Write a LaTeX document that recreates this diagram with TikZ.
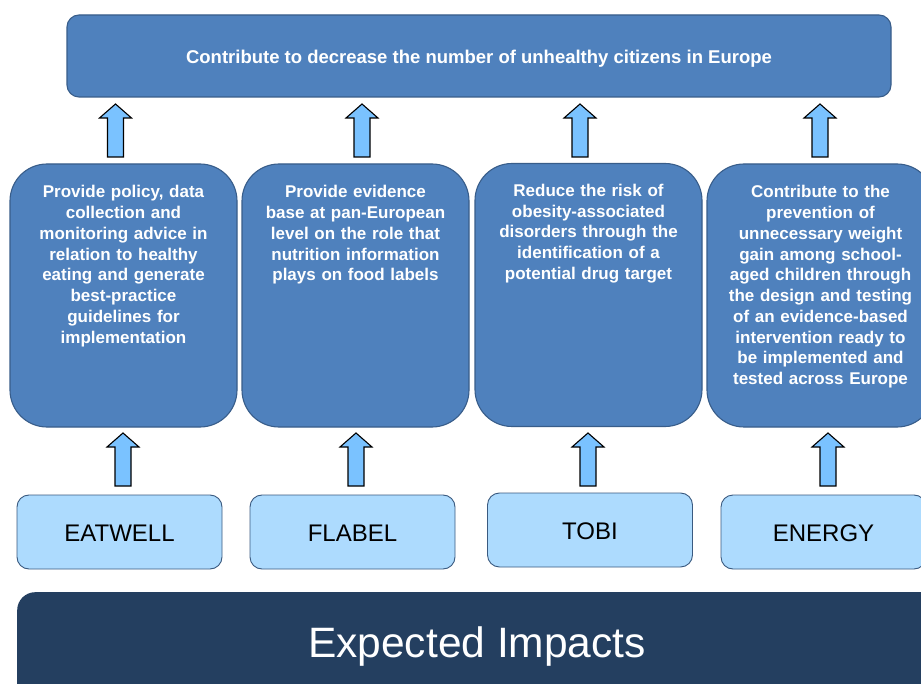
\documentclass[tikz,border=0pt]{standalone}
\usepackage{fontspec}
\setmainfont{Liberation Sans}
\usetikzlibrary{calc}
\definecolor{midblue}{HTML}{4F81BD}
\definecolor{midedge}{HTML}{385D8A}
\definecolor{lightbox}{HTML}{ADDBFE}
\definecolor{lightedge}{HTML}{3A5A80}
\definecolor{arrowfill}{HTML}{7AC2FF}
\definecolor{banner}{HTML}{243F60}
\tikzset{
  topbox/.style={draw=midedge, fill=midblue, line width=1.1pt, rounded corners=12pt,
    minimum width=824pt, minimum height=82pt, inner sep=0pt},
  toptext/.style={text=white, font=\fontsize{18.5}{22}\selectfont\bfseries, inner sep=0pt},
  midbox/.style={draw=midedge, fill=midblue, line width=1.1pt, rounded corners=37pt,
    minimum width=227pt, minimum height=263pt, inner sep=0pt},
  midtext/.style={text=white, align=center, text width=222pt, anchor=north, inner sep=0pt,
    font=\fontsize{17}{20.75}\selectfont\bfseries},
  projbox/.style={draw=lightedge, fill=lightbox, line width=0.9pt, rounded corners=12pt,
    minimum width=205pt, minimum height=74pt, inner sep=0pt},
  projtext/.style={inner sep=0pt, font=\fontsize{24}{28}\selectfont},
  bannerbox/.style={fill=banner, rounded corners=18pt, minimum width=980pt, minimum height=140pt, inner sep=0pt},
  bannertext/.style={text=white, font=\fontsize{42.5}{48}\selectfont, inner sep=0pt},
  barrow/.style={draw=black, fill=arrowfill, line width=1.1pt, line join=miter}
}
\newcommand\blockup[2]{%
  \draw[barrow] let \p1=(#1), \p2=(#2) in
    (\x1-8pt,\y1) -- (\x1+8pt,\y1) -- (\x1+8pt,\y2-14pt) -- (\x1+16pt,\y2-14pt)
    -- (\x2,\y2) -- (\x1-16pt,\y2-14pt) -- (\x1-8pt,\y2-14pt) -- cycle;}
\begin{document}
\begin{tikzpicture}[x=1pt,y=-1pt]
\useasboundingbox (0,0) rectangle (921,684);
\clip (0,0) rectangle (921,684);
\fill[white] (0,0) rectangle (921,684);
% top goal
\node[topbox] (goal) at (479,56) {};
\node[toptext] (goaltxt) at (479,58.5) {Contribute to decrease the number of unhealthy citizens in Europe};
% middle boxes
\node[midbox] (m1) at (123.5,295.5) {};
\node[midbox] (m2) at (355.5,295.5) {};
\node[midbox] (m3) at (588.5,295) {};
\node[midbox] (m4) at (820.5,295.5) {};
\node[midtext] (t1) at ([yshift=-22pt]m1.north) {Provide policy, data\\collection and\\monitoring advice in\\relation to healthy\\eating and generate\\best-practice\\guidelines for\\implementation};
\node[midtext] (t2) at ([yshift=-22pt]m2.north) {Provide evidence\\base at pan-European\\level on the role that\\nutrition information\\plays on food labels};
\node[midtext] (t3) at ([yshift=-21pt]m3.north) {Reduce the risk of\\obesity-associated\\disorders through the\\identification of a\\potential drug target};
\node[midtext] (t4) at ([yshift=-22pt]m4.north) {Contribute to the\\prevention of\\unnecessary weight\\gain among school-\\aged children through\\the design and testing\\of an evidence-based\\intervention ready to\\be implemented and\\tested across Europe};
% project boxes
\node[projbox] (p1) at (119.5,532) {};
\node[projbox] (p2) at (352.5,532) {};
\node[projbox] (p3) at (590,530) {};
\node[projbox] (p4) at (823.5,532) {};
\node[projtext] (p1t) at ([yshift=-1.5pt]p1.center) {EATWELL};
\node[projtext] (p2t) at ([yshift=-1.5pt]p2.center) {FLABEL};
\node[projtext] (p3t) at ([yshift=-1.5pt]p3.center) {TOBI};
\node[projtext] (p4t) at ([yshift=-1.5pt]p4.center) {ENERGY};
% banner
\node[bannerbox, anchor=north west] (ban) at (17,592) {};
\node[bannertext] (bantxt) at (477,647) {Expected Impacts};
% arrows from middle boxes to goal
\coordinate (a1b) at (115.5,157); \coordinate (a1t) at (115.5,104);
\coordinate (a2b) at (362,157);   \coordinate (a2t) at (362,104);
\coordinate (a3b) at (580,157);   \coordinate (a3t) at (580,104);
\coordinate (a4b) at (820,157);   \coordinate (a4t) at (820,104);
\blockup{a1b}{a1t}
\blockup{a2b}{a2t}
\blockup{a3b}{a3t}
\blockup{a4b}{a4t}
% arrows from projects to middle boxes
\coordinate (b1b) at (123,486); \coordinate (b1t) at (123,433);
\coordinate (b2b) at (356,486); \coordinate (b2t) at (356,433);
\coordinate (b3b) at (588,486); \coordinate (b3t) at (588,433);
\coordinate (b4b) at (828,486); \coordinate (b4t) at (828,433);
\blockup{b1b}{b1t}
\blockup{b2b}{b2t}
\blockup{b3b}{b3t}
\blockup{b4b}{b4t}
\end{tikzpicture}
\end{document}
